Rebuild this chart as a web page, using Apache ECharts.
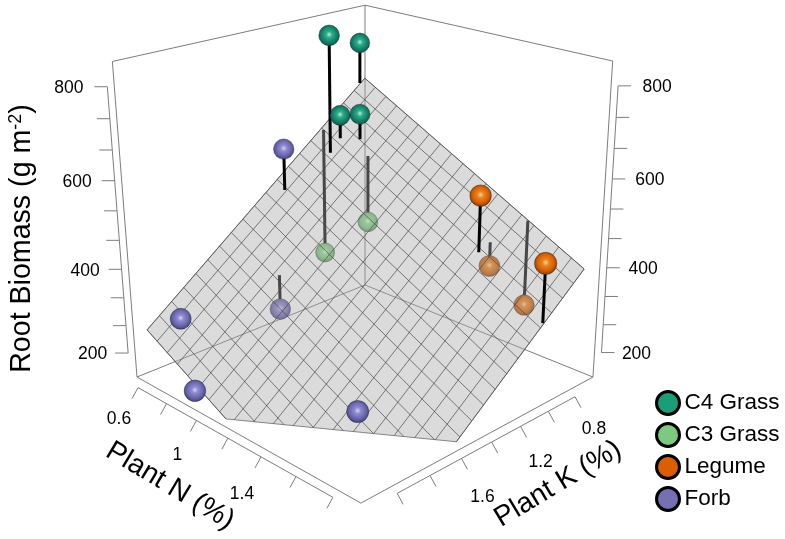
<!DOCTYPE html>
<html><head><meta charset="utf-8"><script src="https://cdn.jsdelivr.net/npm/echarts@6/dist/echarts.min.js"></script>
<style>html,body{margin:0;background:#fff}</style></head><body><div id="c" style="width:785px;height:539px"></div><script>
// Data: plant N (%), plant K (%), root biomass (g m-2)
var c4N=[0.740,0.630,0.731,0.804], c4K=[1.071,0.740,0.992,0.935], c4Z=[827,773,635,640];
var c3N=[0.646,0.882], c3K=[1.016,0.967], c3Z=[286,392];
var legN=[1.520,1.532,1.600,1.894], legK=[0.953,0.888,0.709,0.994], legZ=[541,371,262,448];
var forbN=[0.692,0.715,0.922,0.943,1.499], forbK=[1.332,2.032,1.609,2.165,1.731], forbZ=[586,277,272,168,155];
var groupNames=['C4 Grass','C3 Grass','Legume','Forb'];
var nTicks=[0.6,0.8,1.0,1.2,1.4,1.6,1.8], nLabels=['0.6','','1','','1.4','',''];
var kTicks=[0.8,1.0,1.2,1.4,1.6,1.8,2.0], kLabels=['0.8','','1.2','','1.6','',''];
var zTicks=[200,266.7,333.3,400,466.7,533.3,600,666.7,733.3,800], zLabels=['200','','','400','','','600','','','800'];
var planeCoef=[1041,-229.4,-295.5];
var planeN=[0.633,1.898], planeK=[0.708,2.164], planeCells=19;
var boxN=[0.5926,1.9446], boxK=[0.661,2.211], boxZ=[140.6,851.8];

function proj(N,K,Z){
  var n=(N-boxN[0])/(boxN[1]-boxN[0]),k=(K-boxK[0])/(boxK[1]-boxK[0]),w=(Z-boxZ[0])/(boxZ[1]-boxZ[0]);
  var h=1-0.1285*k-0.1415*n-0.085*w+0.0167*n*w;
  return [365+(-198.7*k+195.7*n)/h,285+(80.2*k+79*n-256*w)/h,1/h];
}
function planeZ(N,K){return planeCoef[0]+planeCoef[1]*N+planeCoef[2]*K;}
var FONT='"Liberation Sans", Arial, sans-serif', INK='#000', BOX='#7d7d7d', TOL=35;

function ballStyle(stops){return {color:{type:'radial',x:0.5,y:0.46,r:0.58,colorStops:[
  {offset:0,color:stops[0]},{offset:0.24,color:stops[1]},{offset:0.62,color:stops[2]},{offset:0.9,color:stops[3]},{offset:1,color:stops[4]}]},
  borderColor:'rgba(20,20,30,0.5)',borderWidth:0.8,opacity:1};}
var ballColors={
 'C4 Grass':['#b8f0dc','#2fae8a','#13806a','#0c5c4a','#0b4438'],
 'C3 Grass':['#e4ffe4','#92d992','#7cc67c','#4f8f55','#3f7346'],
 'Legume':['#ffd9a0','#ee8420','#d65f04','#8f4102','#6a3000'],
 'Forb':['#d4d2fa','#8f8bd0','#6a66ad','#45437e','#34335f']};
var legendColors=['#1b9e77','#7fc97f','#d95f02','#7570b3'];

var groups=[[groupNames[0],c4N,c4K,c4Z],[groupNames[1],c3N,c3K,c3Z],[groupNames[2],legN,legK,legZ],[groupNames[3],forbN,forbK,forbZ]];

function ptList(g,above){var out=[];g[1].forEach(function(N,i){var K=g[2][i],Z=g[3][i];
  if((Z>=planeZ(N,K)-TOL)===above){var p=proj(N,K,Z);out.push([p[0],p[1],p[2]*18]);}});return out;}
function stemList(above){var out=[];groups.forEach(function(g){g[1].forEach(function(N,i){var K=g[2][i],Z=g[3][i],pz=planeZ(N,K);
  if((Z>=pz)===above&&Math.abs(Z-pz)>TOL)out.push([N,K,Z,pz]);});});return out;}

function polyClip(){
  var c=[[planeN[0],planeK[0]],[planeN[1],planeK[0]],[planeN[1],planeK[1]],[planeN[0],planeK[1]]],out=[];
  for(var i=0;i<4;i++){var a=c[i],b=c[(i+1)%4],za=planeZ(a[0],a[1]),zb=planeZ(b[0],b[1]);
    if(za>=boxZ[0])out.push(a);
    if((za>=boxZ[0])!==(zb>=boxZ[0])){var t=(boxZ[0]-za)/(zb-za);out.push([a[0]+t*(b[0]-a[0]),a[1]+t*(b[1]-a[1])]);}}
  return out;
}
function clipSeg(a,b){var za=planeZ(a[0],a[1]),zb=planeZ(b[0],b[1]);
  if(za<boxZ[0]&&zb<boxZ[0])return null;
  if(za<boxZ[0]){var t=(boxZ[0]-za)/(zb-za);a=[a[0]+t*(b[0]-a[0]),a[1]+t*(b[1]-a[1])];}
  if(zb<boxZ[0]){var t2=(boxZ[0]-zb)/(za-zb);b=[b[0]+t2*(a[0]-b[0]),b[1]+t2*(a[1]-b[1])];}
  return [a,b];}

function line3(api,a,b,color,width){var p=api.coord(proj(a[0],a[1],a[2])),q=api.coord(proj(b[0],b[1],b[2]));
  return {type:'line',shape:{x1:p[0],y1:p[1],x2:q[0],y2:q[1]},style:{stroke:color,lineWidth:width,lineCap:'butt'}};}
function segPx(api,p,q,color,width){var a=api.coord(p),b=api.coord(q);
  return {type:'line',shape:{x1:a[0],y1:a[1],x2:b[0],y2:b[1]},style:{stroke:color,lineWidth:width}};}
function txt(api,pt,s,size,rot){var p=api.coord(pt);
  return {type:'text',x:p[0],y:p[1],rotation:rot||0,style:{text:s,fill:INK,font:size+'px '+FONT,align:'center',verticalAlign:'middle'}};}

function renderBox(params,api){
  var x0=boxN[0],x1=boxN[1],y0=boxK[0],y1=boxK[1],z0=boxZ[0],z1=boxZ[1],ch=[];
  [[[x0,y0,z0],[x0,y1,z0]],[[x0,y0,z0],[x1,y0,z0]],[[x0,y1,z0],[x1,y1,z0]],[[x1,y0,z0],[x1,y1,z0]],
   [[x0,y0,z0],[x0,y0,z1]],[[x0,y1,z0],[x0,y1,z1]],[[x1,y0,z0],[x1,y0,z1]],
   [[x0,y0,z1],[x0,y1,z1]],[[x0,y0,z1],[x1,y0,z1]]].forEach(function(s){ch.push(line3(api,s[0],s[1],BOX,1));});
  return {type:'group',children:ch};
}
function renderPlane(params,api){
  var ch=[],poly=polyClip().map(function(p){return api.coord(proj(p[0],p[1],planeZ(p[0],p[1])));});
  ch.push({type:'polygon',shape:{points:poly},style:{fill:'rgba(170,170,170,0.42)',stroke:'rgba(90,90,90,0.7)',lineWidth:1}});
  for(var i=0;i<=planeCells;i++){var t=i/planeCells;
    var nv=planeN[0]+t*(planeN[1]-planeN[0]),kv=planeK[0]+t*(planeK[1]-planeK[0]);
    var s1=clipSeg([nv,planeK[0]],[nv,planeK[1]]),s2=clipSeg([planeN[0],kv],[planeN[1],kv]);
    [s1,s2].forEach(function(s){if(!s)return;
      ch.push(line3(api,[s[0][0],s[0][1],planeZ(s[0][0],s[0][1])],[s[1][0],s[1][1],planeZ(s[1][0],s[1][1])],'rgba(70,70,70,0.68)',1));});}
  return {type:'group',children:ch};
}
function renderStem(params,api){
  return line3(api,[api.value(0),api.value(1),api.value(2)],[api.value(0),api.value(1),api.value(3)],'#000',3);
}
function off(p,dx,dy){return [p[0]+dx,p[1]+dy];}
function renderAxes(params,api){
  var ch=[];
  // Plant N axis
  var nA=nTicks.map(function(v){return off(proj(v,boxK[1],boxZ[0]),0,10);});
  ch.push(segPx(api,nA[0],nA[nA.length-1],BOX,1));
  nA.forEach(function(p,i){ch.push(segPx(api,p,off(p,-6,11),BOX,1));
    if(nLabels[i])ch.push(txt(api,off(p,-19,32+1.25*i),nLabels[i],17.5));});
  // Plant K axis
  var kA=kTicks.map(function(v){return off(proj(boxN[1],v,boxZ[0]),0,10);});
  ch.push(segPx(api,kA[0],kA[kA.length-1],BOX,1));
  kA.forEach(function(p,i){ch.push(segPx(api,p,off(p,6,11),BOX,1));
    if(kLabels[i])ch.push(txt(api,off(p,19+0.5*i,32+1.75*i),kLabels[i],17.5));});
  // Biomass axes, left and right
  var lA=zTicks.map(function(v){return off(proj(boxN[0],boxK[1],v),-7,0);});
  var rA=zTicks.map(function(v){return off(proj(boxN[1],boxK[0],v),7,0);});
  ch.push(segPx(api,lA[0],lA[lA.length-1],BOX,1));
  ch.push(segPx(api,rA[0],rA[rA.length-1],BOX,1));
  lA.forEach(function(p,i){ch.push(segPx(api,p,off(p,-13,0),BOX,1));
    if(zLabels[i])ch.push(txt(api,off(p,-35.5-i/3,1.5),zLabels[i],17.5));});
  rA.forEach(function(p,i){ch.push(segPx(api,p,off(p,13,0),BOX,1));
    if(zLabels[i])ch.push(txt(api,off(p,35+i*4/9,1.5),zLabels[i],17.5));});
  // Titles
  ch.push(txt(api,[170,486],'Plant N (%)',28.2,-31*Math.PI/180));
  ch.push(txt(api,[558,484],'Plant K (%)',28.2,31*Math.PI/180));
  var t=api.coord([22,238.5]);
  ch.push({type:'text',x:t[0],y:t[1],rotation:Math.PI/2,style:{
    text:'{a|Root Biomass (g m}{b|-2}{a|)}',align:'center',verticalAlign:'middle',fill:INK,
    rich:{a:{font:'28.6px '+FONT,fill:INK,verticalAlign:'bottom'},b:{font:'18px '+FONT,fill:INK,verticalAlign:'top'}}}});
  return {type:'group',children:ch};
}
function scatterSeries(g,above,z){return {type:'scatter',name:g[0],z:z,data:ptList(g,above),symbol:'circle',
  symbolSize:function(v){return v[2];},itemStyle:ballStyle(ballColors[g[0]]),silent:true,animation:false,emphasis:{disabled:true}};}
function customSeries(name,data,fn,z){return {type:'custom',name:name,z:z,data:data,renderItem:fn,silent:true,animation:false,encode:{x:0,y:1},clip:false};}

var series=[customSeries('box',[[0,0]],renderBox,1),
 customSeries('stems below',stemList(false),renderStem,2)];
groups.forEach(function(g){series.push(scatterSeries(g,false,3));});
series.push(customSeries('plane',[[0,0]],renderPlane,4));
series.push(customSeries('stems above',stemList(true),renderStem,5));
groups.forEach(function(g){series.push(scatterSeries(g,true,6));});
series.push(customSeries('axes',[[0,0]],renderAxes,7));

var chart=echarts.init(document.getElementById('c'),null,{renderer:'canvas'});
chart.setOption({animation:false,backgroundColor:'#fff',tooltip:{show:false},
 grid:{left:0,top:0,width:785,height:539,containLabel:false},
 xAxis:{type:'value',min:0,max:785,show:false},
 yAxis:{type:'value',min:0,max:539,inverse:true,show:false},
 legend:{orient:'vertical',left:650,top:385,itemWidth:23,itemHeight:23,itemGap:6,selectedMode:false,
  textStyle:{color:'#000',fontFamily:'"Liberation Sans", Arial, sans-serif',fontSize:22.5},
  data:groupNames.map(function(n,i){return {name:n,icon:'circle',itemStyle:{color:legendColors[i],borderColor:'#000',borderWidth:3,opacity:1}};})},
 series:series});
</script></body></html>
